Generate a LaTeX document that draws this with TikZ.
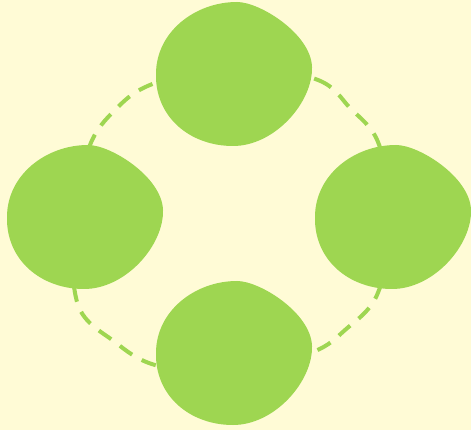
\documentclass[tikz,border=0pt]{standalone}
\definecolor{bgyellow}{RGB}{255,251,214}
\definecolor{blobgreen}{RGB}{158,214,81}
\tikzset{
  blob/.pic={
    \fill[blobgreen] (1,72) .. controls (1,30) and (40,0) .. (82,0)
      .. controls (105,0) and (156,32) .. (157,65)
      .. controls (158,100) and (120,144) .. (78,144)
      .. controls (35,144) and (0,115) .. (1,72) -- cycle;
  },
  ring/.style={draw=blobgreen, line width=4pt, dash pattern=on 15pt off 11pt}
}
\begin{document}
\begin{tikzpicture}[x=1pt, y=-1pt]
\fill[bgyellow] (0,0) rectangle (471,430);
\useasboundingbox (0,0) rectangle (471,430);
\path[ring] plot[smooth cycle, tension=0.55] coordinates {
  (233,62) (318,80) (350,108) (378,142) (394,218)
  (377,295) (345,330) (313,352) (233,376)
  (155,365) (115,342) (78,305) (72,218)
  (90,145) (115,110) (150,85)};
\pic at (155,2) {blob};
\pic at (6,145) {blob};
\pic at (314,145) {blob};
\pic at (155,281) {blob};
\end{tikzpicture}
\end{document}
